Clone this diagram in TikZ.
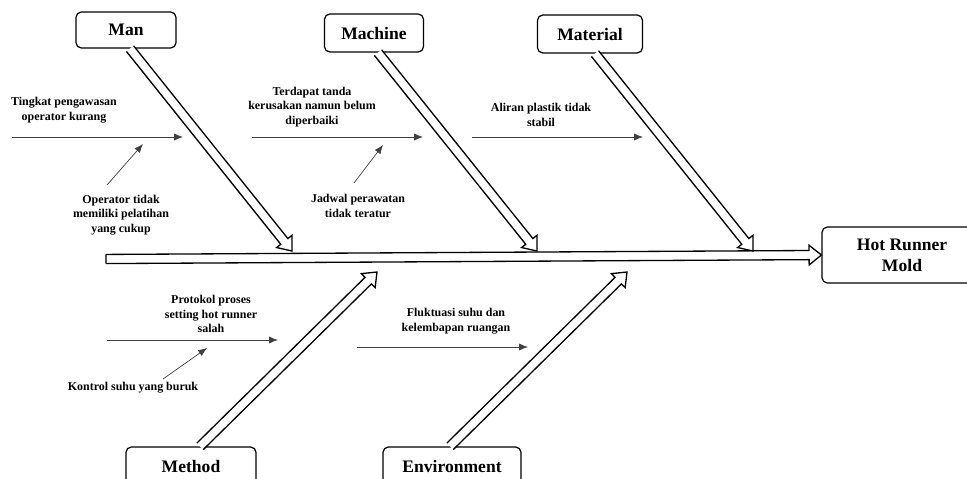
\documentclass[tikz,border=0pt]{standalone}
\usepackage{fontspec}
\setmainfont{Liberation Serif}
\usetikzlibrary{%
  positioning
 ,calc
 ,arrows.meta
}
\tikzstyle{cat}=[draw=black,rounded corners=3pt,line width=0.7pt,inner sep=0pt,font=\bfseries\fontsize{10}{12}\selectfont]
\tikzstyle{bone}=[draw=black,fill=white,line width=0.75pt,line join=miter]
\tikzstyle{cause}=[draw=black!75,line width=0.4pt,-{Latex[length=5pt,width=4pt]}]
\tikzstyle{txt}=[align=center,inner sep=0pt,font=\bfseries\fontsize{6.8}{8.3}\selectfont]
% hollow arrow from #1 to #2
\newcommand{\fishbone}[2]{%
  \coordinate (hb) at ($(#2)!7pt!(#1)$);
  \draw[bone] ($(#1)!2.6pt!90:(#2)$) -- ($(hb)!2.6pt!-90:(#1)$) -- ($(hb)!5.6pt!-90:(#1)$)
    -- (#2) -- ($(hb)!5.6pt!90:(#1)$) -- ($(hb)!2.6pt!90:(#1)$) -- ($(#1)!2.6pt!-90:(#2)$);
}

\begin{document}
\begin{tikzpicture}[x=0.02cm,y=-0.02cm]
  \useasboundingbox (0,0) rectangle (967,478);
  \node[cat,minimum width=2cm,minimum height=0.72cm]    (man)      at (126,30)  {Man};
  \node[cat,minimum width=1.98cm,minimum height=0.76cm] (machine)  at (374,33)  {Machine};
  \node[cat,minimum width=2.1cm,minimum height=0.76cm]  (material) at (590,34)  {Material};
  \node[cat,minimum width=2.6cm,minimum height=0.76cm]  (method)   at (191,466) {Method};
  \node[cat,minimum width=2.76cm,minimum height=0.76cm] (env)      at (452,466) {Environment};
  \node[cat,minimum width=3.2cm,minimum height=1.12cm,align=center] (hot) at (902,255) {Hot Runner\\Mold};
%
  \coordinate (spine) at (106,259);
  \coordinate (mantip) at (292,251);
  \coordinate (machinetip) at (537,251);
  \coordinate (materialtip) at (753,251);
  \coordinate (methodtip) at (377,272);
  \coordinate (envtip) at (627,272);
%
  \fishbone{spine}{hot.west}
  \draw[bone] ($(spine)!2.6pt!90:(hot.west)$) -- ($(spine)!2.6pt!-90:(hot.west)$);
  \fishbone{$(man.south)+(4,0)$}{mantip}
  \fishbone{$(machine.south)+(4,0)$}{machinetip}
  \fishbone{$(material.south)+(5,0)$}{materialtip}
  \fishbone{$(method.north)+(9,0)$}{methodtip}
  \fishbone{$(env.north)+(-2,0)$}{envtip}
%
  \node[txt] (t1) at (64,110)  {Tingkat pengawasan\\operator kurang};
  \node[txt] (t2) at (121,215) {Operator tidak\\memiliki pelatihan\\yang cukup};
  \node[txt] (t3) at (312,107) {Terdapat tanda\\kerusakan namun belum\\diperbaiki};
  \node[txt] (t4) at (358,206) {Jadwal perawatan\\tidak teratur};
  \node[txt] (t5) at (541,115) {Aliran plastik tidak\\stabil};
  \node[txt] (t6) at (211,314) {Protokol proses\\setting hot runner\\salah};
  \node[txt] (t7) at (133,388) {Kontrol suhu yang buruk};
  \node[txt] (t8) at (456,321) {Fluktuasi suhu dan\\kelembapan ruangan};
%
  \coordinate (a1) at (12,137);  \coordinate (b1) at (183,137);
  \coordinate (a2) at (107,185); \coordinate (b2) at (143,144);
  \coordinate (a3) at (252,137); \coordinate (b3) at (423,137);
  \coordinate (a4) at (354,183); \coordinate (b4) at (383,145);
  \coordinate (a5) at (472,137); \coordinate (b5) at (643,137);
  \coordinate (a6) at (107,340); \coordinate (b6) at (278,340);
  \coordinate (a7) at (163,379); \coordinate (b7) at (207,348);
  \coordinate (a8) at (357,347); \coordinate (b8) at (528,347);
  \path
  (a1) edge[cause] (b1)
  (a2) edge[cause] (b2)
  (a3) edge[cause] (b3)
  (a4) edge[cause] (b4)
  (a5) edge[cause] (b5)
  (a6) edge[cause] (b6)
  (a7) edge[cause] (b7)
  (a8) edge[cause] (b8);
\end{tikzpicture}
\end{document}
